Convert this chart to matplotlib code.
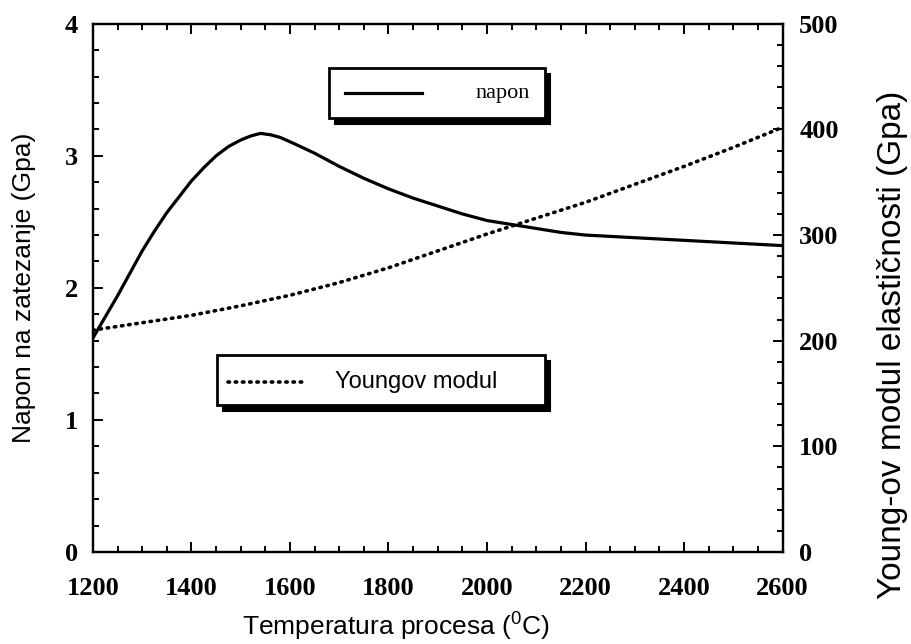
import matplotlib
matplotlib.use("Agg")
import matplotlib.pyplot as plt
from matplotlib.patches import Rectangle
from matplotlib.ticker import MultipleLocator

# napon na zatezanje (GPa), left axis
temp_napon = [1200, 1225, 1250, 1275, 1300, 1325, 1350, 1375, 1400, 1425, 1450, 1475,
              1500, 1520, 1540, 1560, 1580, 1610, 1650, 1700, 1750, 1800, 1850, 1900,
              1950, 2000, 2050, 2100, 2150, 2200, 2300, 2400, 2500, 2600]
napon = [1.62, 1.78, 1.94, 2.11, 2.28, 2.43, 2.57, 2.69, 2.81, 2.91, 3.00, 3.07,
         3.12, 3.15, 3.17, 3.16, 3.14, 3.09, 3.02, 2.92, 2.83, 2.75, 2.68, 2.62,
         2.56, 2.51, 2.48, 2.45, 2.42, 2.40, 2.38, 2.36, 2.34, 2.32]

# Youngov modul (GPa), right axis
temp_young = [1200, 1300, 1400, 1500, 1600, 1700, 1800, 1900, 2000, 2100, 2200,
              2300, 2400, 2500, 2600]
young = [210, 217, 224, 233, 243, 255, 269, 285, 301, 316, 331, 348, 365, 383, 402]

x_ticks = [1200, 1400, 1600, 1800, 2000, 2200, 2400, 2600]
y_ticks = [0, 1, 2, 3, 4]
y2_ticks = [0, 100, 200, 300, 400, 500]

SANS = "Liberation Sans"
SERIF = "Liberation Serif"
DOTS = (0, (0.4, 1.6))

fig = plt.figure(figsize=(9.11, 6.44), dpi=100)
ax = fig.add_axes([0.102, 0.143, 0.757, 0.820])
ax2 = ax.twinx()

ax.plot(temp_napon, napon, color="black", lw=2.3, solid_capstyle="round",
        solid_joinstyle="round")
ax2.plot(temp_young, young, color="black", lw=2.6, linestyle=DOTS, dash_capstyle="round")

ax.set_xlim(1200, 2600)
ax.set_ylim(0, 4)
ax2.set_ylim(0, 500)
ax.set_xticks(x_ticks)
ax.set_yticks(y_ticks)
ax2.set_yticks(y2_ticks)
ax.xaxis.set_minor_locator(MultipleLocator(50))
ax.yaxis.set_minor_locator(MultipleLocator(0.2))
ax2.yaxis.set_minor_locator(MultipleLocator(20))

tick_font = dict(labelsize=19, labelfontfamily=SERIF)
ax.tick_params(which="both", direction="in", top=True, right=False, width=1.4, **tick_font)
ax.tick_params(which="major", length=7)
ax.tick_params(which="minor", length=4)
ax.tick_params(axis="y", pad=11)
ax.tick_params(axis="x", pad=18)
ax2.tick_params(which="both", direction="in", width=1.4, pad=12, **tick_font)
ax2.tick_params(which="major", length=7)
ax2.tick_params(which="minor", length=4)
for lab in ax.get_xticklabels() + ax.get_yticklabels() + ax2.get_yticklabels():
    lab.set_fontweight("bold")

for a in (ax, ax2):
    for sp in a.spines.values():
        sp.set_linewidth(1.6)

ax.set_xlabel(r"Temperatura procesa ($\mathregular{^0}$C)", family=SANS, fontsize=19)
ax.xaxis.set_label_coords(0.44, -0.112)
ax.set_ylabel("Napon na zatezanje (Gpa)", family=SANS, fontsize=19)
ax.yaxis.set_label_coords(-0.082, 0.5)
fig.text(0.980, 0.465, "Young-ov modul elastičnosti (Gpa)", family=SANS, fontsize=24,
         rotation=90, ha="center", va="center")


def legend_box(x0, y0, x1, y1):
    # boxed legend with a heavy drop shadow, in axes coordinates
    sx, sy = 0.008, 0.012
    ax.add_patch(Rectangle((x0 + sx, y0 - sy), x1 - x0, y1 - y0, transform=ax.transAxes,
                           facecolor="black", edgecolor="black", lw=1.5, zorder=5))
    ax.add_patch(Rectangle((x0, y0), x1 - x0, y1 - y0, transform=ax.transAxes,
                           facecolor="white", edgecolor="black", lw=2.0, zorder=6))


legend_box(0.343, 0.822, 0.655, 0.917)
ax.plot([0.365, 0.477], [0.869, 0.869], transform=ax.transAxes, color="black", lw=2.3, zorder=7)
ax.text(0.555, 0.869, "napon", transform=ax.transAxes, family=SERIF, fontsize=16,
        va="center", ha="left", zorder=7)

legend_box(0.180, 0.278, 0.655, 0.373)
ax.plot([0.196, 0.310], [0.322, 0.322], transform=ax.transAxes, color="black", lw=2.6,
        linestyle=DOTS, dash_capstyle="round", zorder=7)
ax.text(0.351, 0.322, "Youngov modul", transform=ax.transAxes, family=SANS, fontsize=17,
        va="center", ha="left", zorder=7)

fig.savefig("out.png", dpi=100)
